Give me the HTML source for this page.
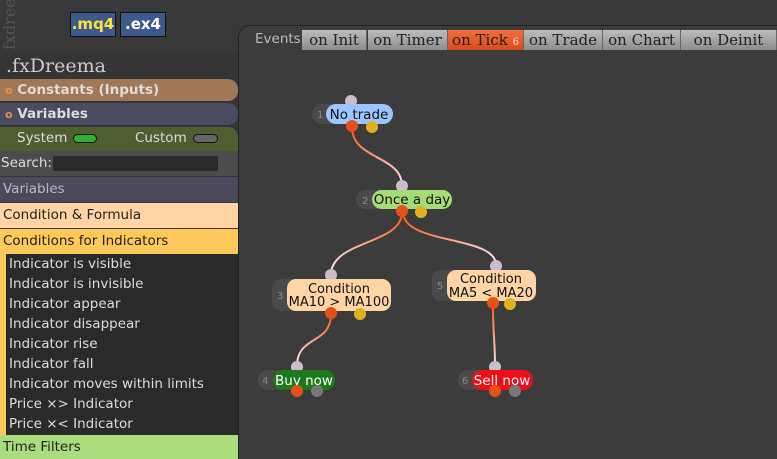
<!DOCTYPE html>
<html><head><meta charset="utf-8"><style>
*{margin:0;padding:0;box-sizing:border-box}
html,body{width:777px;height:459px;overflow:hidden}
body{background:#353535;font-family:"DejaVu Sans","Liberation Sans",sans-serif;position:relative}
.a{position:absolute}
.tab{position:absolute;top:30px;height:20px;background:linear-gradient(#bdbdbd,#8c8c8c);color:#222;font-family:"DejaVu Serif","Liberation Serif",serif;font-size:15px;line-height:20px;text-align:center;border-right:1px solid #666}
.it{position:absolute;left:9px;color:#ddd;font-size:13.5px}
</style></head><body>
<div class="a" style="left:0;top:0;width:777px;height:54px;background:#383838"></div>
<div class="a" style="left:0;top:0;width:18px;height:50px;color:#555;font-size:16px;writing-mode:vertical-rl;transform:rotate(180deg);font-family:'DejaVu Serif',serif;overflow:hidden">fxdreem</div>
<div class="a" style="left:70px;top:12px;width:46px;height:25px;background:#3c5a8c;border:1px solid #111;color:#ffe23a;font-weight:bold;font-size:15px;text-align:center;line-height:23px">.mq4</div>
<div class="a" style="left:120px;top:12px;width:46px;height:25px;background:#3c5a8c;border:1px solid #111;color:#fff;font-weight:bold;font-size:15px;text-align:center;line-height:23px">.ex4</div>
<div class="a" style="left:238px;top:25px;width:539px;height:434px;background:#3c3c3c;border-top:1px solid #222;border-left:1px solid #222;border-radius:12px 0 0 0"></div>
<div class="a" style="left:255px;top:31px;color:#bbb;font-size:13.5px">Events</div>
<div class="tab" style="left:302px;width:65px">on Init</div>
<div class="tab" style="left:368px;width:80px">on Timer</div>
<div class="tab" style="left:448px;width:76px;background:linear-gradient(#f07040,#d84a1c)">on Tick <span style="font-size:10px;color:#fdd">6</span></div>
<div class="tab" style="left:524px;width:79px">on Trade</div>
<div class="tab" style="left:603px;width:78px">on Chart</div>
<div class="tab" style="left:681px;width:96px">on Deinit</div>
<div class="a" style="left:0;top:53px;width:238px;height:406px;background:#353535"></div>
<div class="a" style="left:6px;top:55px;color:#ccc;font-family:'DejaVu Serif','Liberation Serif',serif;font-size:19px">.fxDreema</div>
<div class="a" style="left:0;top:79px;width:238px;height:22px;background:#a07858;border-radius:0 10px 10px 0;color:#ddd;font-weight:bold;font-size:13.5px;line-height:22px;padding-left:5px"><span style="color:#e98a50;font-size:11px">o</span> Constants (Inputs)</div>
<div class="a" style="left:0;top:103px;width:238px;height:22px;background:#4a4a60;border-radius:0 10px 10px 0;color:#ddd;font-weight:bold;font-size:13.5px;line-height:22px;padding-left:5px"><span style="color:#e98a50;font-size:11px">o</span> Variables</div>
<div class="a" style="left:0;top:127px;width:238px;height:24px;background:#4e5e30;border-radius:0 10px 0 0"></div>
<div class="a" style="left:17px;top:130px;color:#ddd;font-size:13.5px">System</div>
<div class="a" style="left:73px;top:134px;width:24px;height:9px;background:#2fb32f;border:1px solid #111;border-radius:5px"></div>
<div class="a" style="left:135px;top:130px;color:#ddd;font-size:13.5px">Custom</div>
<div class="a" style="left:193px;top:134px;width:25px;height:9px;background:#666;border:1px solid #111;border-radius:5px"></div>
<div class="a" style="left:0;top:151px;width:238px;height:25px;background:#4c4c4c"></div>
<div class="a" style="left:1px;top:155px;color:#ddd;font-size:13.5px">Search:</div>
<div class="a" style="left:53px;top:156px;width:165px;height:15px;background:#2a2a2a;border-radius:2px"></div>
<div class="a" style="left:0;top:177px;width:238px;height:25px;background:#4a4a5c;color:#bbb;font-size:13.5px;line-height:24px;padding-left:3px">Variables</div>
<div class="a" style="left:0;top:203px;width:238px;height:25px;background:#ffd5a5;color:#222;font-size:13.5px;line-height:24px;padding-left:3px">Condition &amp; Formula</div>
<div class="a" style="left:0;top:229px;width:238px;height:25px;background:#ffc85a;color:#222;font-size:13.5px;line-height:24px;padding-left:3px">Conditions for Indicators</div>
<div class="a" style="left:0;top:254px;width:6px;height:181px;background:#ffc85a"></div>
<div class="a" style="left:6px;top:254px;width:232px;height:181px;background:#2a2a2a"></div>
<div class="it" style="top:256px">Indicator is visible</div>
<div class="it" style="top:276px">Indicator is invisible</div>
<div class="it" style="top:296px">Indicator appear</div>
<div class="it" style="top:316px">Indicator disappear</div>
<div class="it" style="top:336px">Indicator rise</div>
<div class="it" style="top:356px">Indicator fall</div>
<div class="it" style="top:376px">Indicator moves within limits</div>
<div class="it" style="top:396px">Price ×&gt; Indicator</div>
<div class="it" style="top:416px">Price ×&lt; Indicator</div>
<div class="a" style="left:0;top:435px;width:238px;height:24px;background:#a8dc7c;color:#222;font-size:13.5px;line-height:24px;padding-left:3px">Time Filters</div>

<svg class="a" style="left:0;top:0" width="777" height="459">
<defs>
<linearGradient id="g1" gradientUnits="userSpaceOnUse" x1="352" y1="127" x2="402" y2="186"><stop offset="0" stop-color="#ff5a1a"/><stop offset="1" stop-color="#f4e6ee"/></linearGradient>
<linearGradient id="g2" gradientUnits="userSpaceOnUse" x1="402" y1="212" x2="331" y2="275"><stop offset="0" stop-color="#ff5a1a"/><stop offset="1" stop-color="#f4e6ee"/></linearGradient>
<linearGradient id="g3" gradientUnits="userSpaceOnUse" x1="405" y1="212" x2="496" y2="265"><stop offset="0" stop-color="#ff5a1a"/><stop offset="1" stop-color="#f4e6ee"/></linearGradient>
<linearGradient id="g4" gradientUnits="userSpaceOnUse" x1="331" y1="314" x2="297" y2="366"><stop offset="0" stop-color="#ff5a1a"/><stop offset="1" stop-color="#f4e6ee"/></linearGradient>
<linearGradient id="g5" gradientUnits="userSpaceOnUse" x1="493" y1="305" x2="495" y2="366"><stop offset="0" stop-color="#ff5a1a"/><stop offset="1" stop-color="#f4e6ee"/></linearGradient>
</defs>
<g fill="none" stroke-width="2">
<path d="M352 127 C352 160 402 155 402 186" stroke="url(#g1)"/>
<path d="M402 212 C402 245 331 240 331 275" stroke="url(#g2)"/>
<path d="M403 212 C403 245 496 235 496 265" stroke="url(#g3)"/>
<path d="M331 314 C331 345 297 335 297 366" stroke="url(#g4)"/>
<path d="M493 305 C493 335 495 340 495 366" stroke="url(#g5)"/>
</g>
<g font-family="DejaVu Sans,Liberation Sans,sans-serif">
<circle cx="351" cy="101" r="6" fill="#cdbccb"/>
<rect x="312" y="104" width="50" height="20" rx="10" fill="#4a4a4a"/>
<text x="317" y="118" font-size="10" fill="#888">1</text>
<rect x="326" y="104" width="67" height="20" rx="10" fill="#9cc4ff"/>
<text x="359" y="119" font-size="13.5" fill="#111" text-anchor="middle">No trade</text>
<circle cx="352" cy="126" r="6" fill="#e8501a"/><circle cx="372" cy="127" r="6" fill="#e0b020"/>
<circle cx="402" cy="186" r="6" fill="#cdbccb"/>
<rect x="356" y="190" width="50" height="19" rx="9.5" fill="#4a4a4a"/>
<text x="362" y="204" font-size="10" fill="#888">2</text>
<rect x="372" y="190" width="80" height="19" rx="9.5" fill="#a4dc78"/>
<text x="412" y="204" font-size="13.5" fill="#111" text-anchor="middle">Once a day</text>
<circle cx="402" cy="211" r="6" fill="#e8501a"/><circle cx="421" cy="212" r="6" fill="#e0b020"/>
<circle cx="331" cy="275" r="6" fill="#cdbccb"/>
<rect x="272" y="279" width="50" height="32" rx="9" fill="#4a4a4a"/>
<text x="277" y="299" font-size="10" fill="#888">3</text>
<rect x="287" y="279" width="104" height="32" rx="9" fill="#ffd5a5"/>
<text x="339" y="293" font-size="13" fill="#111" text-anchor="middle">Condition</text>
<text x="339" y="306" font-size="13" fill="#111" text-anchor="middle">MA10 &gt; MA100</text>
<circle cx="331" cy="313" r="6" fill="#e8501a"/><circle cx="360" cy="314" r="6" fill="#e0b020"/>
<circle cx="496" cy="266" r="6" fill="#cdbccb"/>
<rect x="432" y="270" width="50" height="31" rx="9" fill="#4a4a4a"/>
<text x="437" y="289" font-size="10" fill="#888">5</text>
<rect x="447" y="270" width="89" height="31" rx="9" fill="#ffd5a5"/>
<text x="491" y="283" font-size="13" fill="#111" text-anchor="middle">Condition</text>
<text x="491" y="297" font-size="13" fill="#111" text-anchor="middle">MA5 &lt; MA20</text>
<circle cx="493" cy="303" r="6" fill="#e8501a"/><circle cx="510" cy="304" r="6" fill="#e0b020"/>
<circle cx="297" cy="367" r="6" fill="#cdbccb"/>
<rect x="258" y="370" width="50" height="20" rx="10" fill="#4a4a4a"/>
<text x="262" y="384" font-size="10" fill="#888">4</text>
<rect x="273" y="370" width="62" height="20" rx="10" fill="#1c7a1c"/>
<text x="304" y="385" font-size="13.5" fill="#fff" text-anchor="middle">Buy now</text>
<circle cx="297" cy="391" r="6" fill="#e8501a"/><circle cx="317" cy="391" r="6" fill="#777"/>
<circle cx="495" cy="367" r="6" fill="#cdbccb"/>
<rect x="458" y="370" width="50" height="20" rx="10" fill="#4a4a4a"/>
<text x="462" y="384" font-size="10" fill="#888">6</text>
<rect x="472" y="370" width="61" height="20" rx="10" fill="#ee0e18"/>
<text x="502" y="385" font-size="13.5" fill="#fff" text-anchor="middle">Sell now</text>
<circle cx="495" cy="391" r="6" fill="#e8501a"/><circle cx="515" cy="391" r="6" fill="#777"/>
</g>
</svg>
</body></html>
